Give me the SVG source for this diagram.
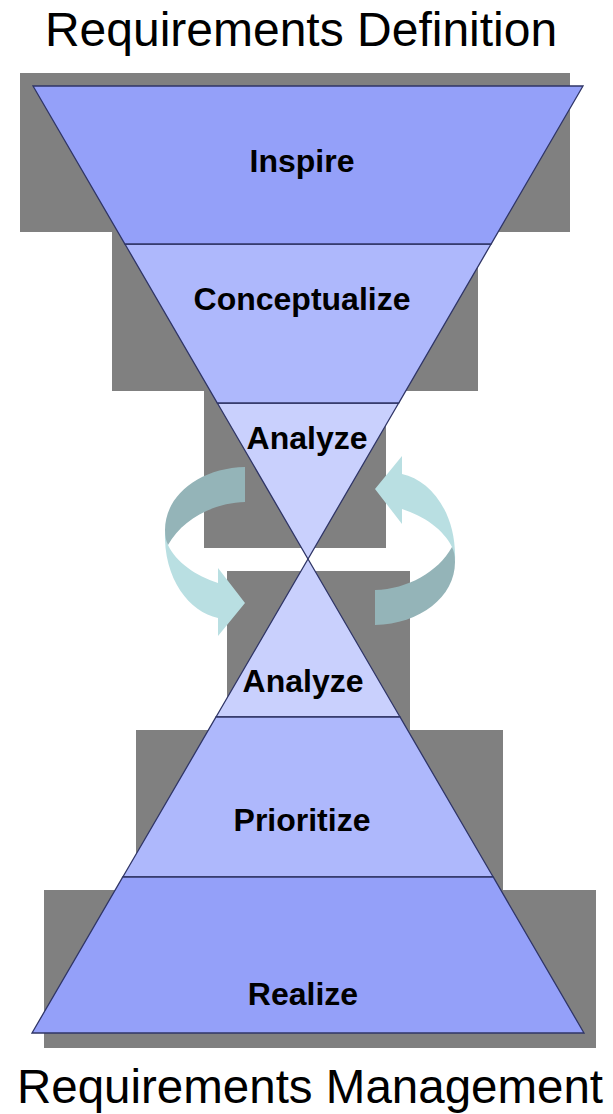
<svg xmlns="http://www.w3.org/2000/svg" width="613" height="1114" viewBox="0 0 613 1114">
<style>
.sh{fill:#808080}
.band{stroke:#2F3566;stroke-width:1.3;stroke-linejoin:miter}
.c1{fill:#94A0F9}
.c2{fill:#AEB8FC}
.c3{fill:#C9D0FD}
.lbl{font-family:"Liberation Sans",Arial,sans-serif;font-weight:bold;font-size:32px;fill:#000;text-anchor:middle}
.ttl{font-family:"Liberation Sans",Arial,sans-serif;font-size:48px;fill:#000;text-anchor:middle}
.dk{fill:#94B4B8}
.lt{fill:#B9DFE2}
</style>
<defs>
<g id="cyc">
<path class="lt" d="M165,530 C163,580 190,612 218,618 L218,636 L245,603 L218,568 L218,583 C196,576 176,562 168,545 Z"/>
<path class="dk" d="M245,467 C200,468 165,495 165,530 C165,536 166,541 168,545 C182,520 212,503 245,502 Z"/>
</g>
</defs>
<text class="ttl" x="301" y="46">Requirements Definition</text>
<text class="ttl" x="310" y="1103" style="font-size:47.5px">Requirements Management</text>
<g id="analyze-top">
<rect class="sh" x="204" y="391" width="182" height="157"/>
<polygon class="band c3" points="217.3,403 398.7,403 308,559"/>
<text class="lbl" x="307" y="449">Analyze</text>
</g>
<g id="conceptualize">
<rect class="sh" x="112" y="232" width="366" height="159"/>
<polygon class="band c2" points="124.9,244 491.1,244 398.7,403 217.3,403"/>
<text class="lbl" x="302" y="310">Conceptualize</text>
</g>
<g id="inspire">
<rect class="sh" x="20" y="73" width="550" height="159"/>
<polygon class="band c1" points="33,86 583,86 491.1,244 124.9,244"/>
<text class="lbl" x="302" y="172">Inspire</text>
</g>
<g id="analyze-bottom">
<rect class="sh" x="227" y="571" width="183" height="159"/>
<polygon class="band c3" points="308,559 400,717 216,717"/>
<text class="lbl" x="303" y="692">Analyze</text>
</g>
<g id="prioritize">
<rect class="sh" x="136" y="730" width="367" height="160"/>
<polygon class="band c2" points="216,717 400,717 493.2,877 122.8,877"/>
<text class="lbl" x="302" y="831">Prioritize</text>
</g>
<g id="realize">
<rect class="sh" x="44" y="890" width="552" height="158"/>
<polygon class="band c1" points="122.8,877 493.2,877 584,1033 32,1033"/>
<text class="lbl" x="303" y="1005">Realize</text>
</g>
<g id="connectors">
<use href="#cyc"/>
<use href="#cyc" transform="rotate(180 310 546)"/>
</g>
</svg>
